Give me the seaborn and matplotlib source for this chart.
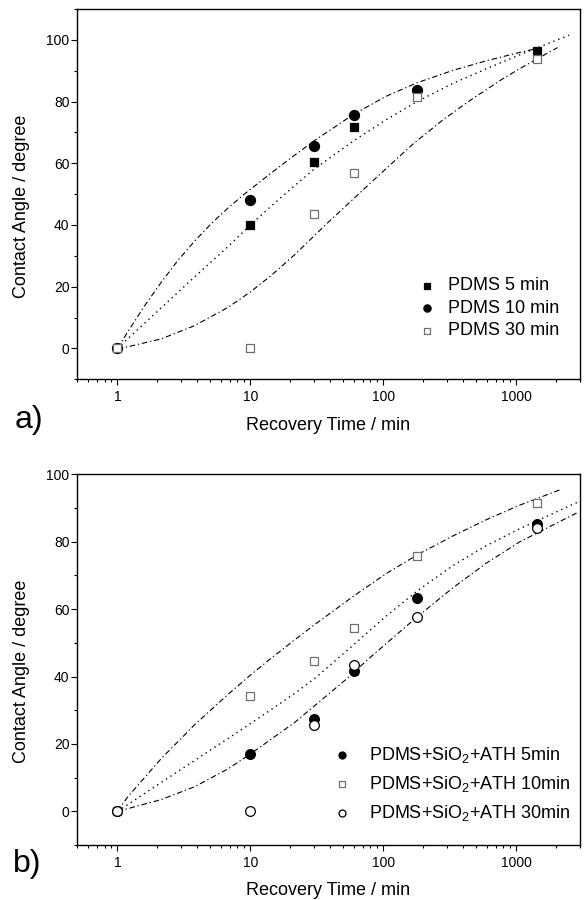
import numpy as np
import matplotlib
matplotlib.use("Agg")
import matplotlib.pyplot as plt
import matplotlib.ticker as mticker
import seaborn as sns

# recovery times (min)
times = [1, 10, 30, 60, 180, 1440]

# a) plain PDMS, contact angle (degree)
pdms_5 = [0, 40.0, 60.3, 71.6, np.nan, 96.5]
pdms_10 = [0, 48.0, 65.6, 75.6, 83.8, np.nan]
pdms_30 = [0, 0, 43.6, 56.8, 81.6, 93.8]
labels_a = ["PDMS 5 min", "PDMS 10 min", "PDMS 30 min"]

# b) PDMS+SiO2+ATH
comp_5 = [0, 16.9, 27.5, 41.5, 63.3, 85.4]
comp_10 = [0, 34.2, 44.5, 54.4, 75.9, 91.4]
comp_30 = [0, 0, 25.5, 43.5, 57.8, 84.2]
labels_b = [r"PDMS+SiO$_2$+ATH 5min", r"PDMS+SiO$_2$+ATH 10min", r"PDMS+SiO$_2$+ATH 30min"]

# fit curves
fit_a_up_x = [1, 1.2, 1.6, 2.14, 2.86, 3.81, 5.09, 6.79, 9.07, 13.9, 20.3, 30, 60, 105, 180, 334, 595, 1058, 1400]
fit_a_up_y = [0, 5.5, 13.8, 21.5, 28.6, 34.8, 40.5, 45.5, 50.1, 56.4, 61.8, 67.2, 75.9, 81.7, 86.1, 90.1, 93.2, 95.9, 97.1]
fit_a_mid_x = [1, 1.2, 2.14, 3.81, 6.79, 10, 13.9, 20.3, 30, 60, 105, 180, 334, 595, 1058, 2500]
fit_a_mid_y = [0, 3.2, 13.2, 23.2, 33.0, 40.0, 45.6, 51.8, 58.0, 67.3, 74.1, 80.0, 85.9, 90.6, 95.1, 101.5]
fit_a_low_x = [1, 1.2, 2.14, 3.81, 6.79, 10, 14.4, 21.6, 37.3, 83.4, 167, 280, 444, 794, 1058, 2050]
fit_a_low_y = [0, 0.55, 3.1, 7.4, 13.3, 18.3, 23.7, 30.4, 40.3, 54.3, 66.2, 74.0, 80.2, 87.4, 90.6, 97.5]

fit_b_up_x = [1, 1.2, 2.14, 3.81, 6.79, 10, 13.9, 21.6, 30, 60, 105, 180, 334, 595, 1058, 2140]
fit_b_up_y = [0, 4.4, 15.7, 25.7, 34.7, 40.4, 45.0, 50.9, 55.2, 63.9, 70.5, 76.1, 81.7, 86.5, 90.8, 95.4]
fit_b_mid_x = [1, 1.2, 2.14, 3.81, 6.79, 10, 21.6, 31.3, 59, 105, 180, 334, 595, 1058, 2930]
fit_b_mid_y = [0, 2.05, 8.6, 15.1, 21.6, 26.0, 35.0, 39.8, 49.2, 57.9, 65.4, 72.9, 78.8, 83.8, 91.8]
fit_b_low_x = [1, 1.2, 2.14, 3.81, 6.79, 10, 21.6, 52.7, 78.9, 180, 334, 595, 1058, 2850]
fit_b_low_y = [0, 0.8, 3.5, 7.3, 12.6, 17.0, 26.4, 39.2, 45.5, 57.7, 66.3, 73.6, 79.9, 88.5]

sns.set_style("ticks")
plt.rcParams["font.family"] = ["Liberation Sans", "DejaVu Sans"]
plt.rcParams["mathtext.fontset"] = "custom"
plt.rcParams["mathtext.rm"] = "Liberation Sans"
plt.rcParams["mathtext.it"] = "Liberation Sans:italic"
for key in ["text.color", "axes.labelcolor", "xtick.color", "ytick.color", "axes.edgecolor"]:
    plt.rcParams[key] = "black"

dashdot = (0, (5, 2.5, 1.2, 2.5))
dotted = (0, (1.0, 2.8))
grey = "#707070"


def curve(ax, x, y, ls, lw=0.8):
    sns.lineplot(x=x, y=y, ax=ax, color="k", linewidth=lw, linestyle=ls,
                 estimator=None, sort=False, zorder=2)


def points(ax, y, marker, face, edge, size, label):
    sns.scatterplot(x=times, y=y, ax=ax, marker=marker, s=size, color=face,
                    edgecolor=edge, linewidth=0.9, label=label, zorder=3)


def style_axes(ax, ymax):
    ax.set_xscale("log")
    ax.set_xlim(0.5, 3000)
    ax.set_ylim(-10, ymax)
    ax.xaxis.set_major_locator(mticker.FixedLocator([1, 10, 100, 1000]))
    ax.xaxis.set_major_formatter(mticker.FormatStrFormatter("%g"))
    ax.xaxis.set_minor_locator(mticker.LogLocator(base=10, subs=np.arange(2, 10)))
    ax.xaxis.set_minor_formatter(mticker.NullFormatter())
    ax.yaxis.set_major_locator(mticker.MultipleLocator(20))
    ax.yaxis.set_minor_locator(mticker.MultipleLocator(10))
    ax.tick_params(which="both", direction="out", top=False, right=False,
                   width=0.8, labelsize=10, colors="k")
    ax.tick_params(which="major", length=4.3)
    ax.tick_params(which="minor", length=2.4)
    ax.tick_params(axis="x", pad=3.5)
    ax.tick_params(axis="y", pad=1.5)
    for sp in ax.spines.values():
        sp.set_visible(True)
        sp.set_linewidth(1.0)
        sp.set_color("k")
    ax.set_xlabel("Recovery Time / min", fontsize=13)
    ax.set_ylabel("Contact Angle / degree", fontsize=13)
    ax.xaxis.set_label_coords(0.5, -0.124)
    ax.xaxis.label.set_verticalalignment("center")
    ax.yaxis.set_label_coords(-0.112, 0.468)
    ax.yaxis.label.set_verticalalignment("center")


fig = plt.figure(figsize=(5.84, 9), dpi=100)
ax_a = fig.add_axes([0.1327, 0.5786, 0.8596, 0.4114])
ax_b = fig.add_axes([0.1327, 0.0611, 0.8596, 0.4119])

# panel a
style_axes(ax_a, 110)
curve(ax_a, fit_a_up_x, fit_a_up_y, dashdot)
curve(ax_a, fit_a_mid_x, fit_a_mid_y, dotted, lw=1.0)
curve(ax_a, fit_a_low_x, fit_a_low_y, dashdot)
points(ax_a, pdms_5, "s", "k", "k", 40, labels_a[0])
points(ax_a, pdms_10, "o", "k", "k", 52, labels_a[1])
points(ax_a, pdms_30, "s", "white", grey, 36, labels_a[2])
ax_a.legend(loc="upper left", bbox_to_anchor=(0.679, 0.275), frameon=False,
            fontsize=13, handlelength=1.0, handletextpad=0.65, labelspacing=0.3,
            borderpad=0, borderaxespad=0, markerscale=0.72)

# panel b
style_axes(ax_b, 100)
curve(ax_b, fit_b_up_x, fit_b_up_y, dashdot)
curve(ax_b, fit_b_mid_x, fit_b_mid_y, dotted, lw=1.0)
curve(ax_b, fit_b_low_x, fit_b_low_y, dashdot)
points(ax_b, comp_5, "o", "k", "k", 49, labels_b[0])
points(ax_b, comp_10, "s", "white", grey, 36, labels_b[1])
points(ax_b, comp_30, "o", "white", "k", 49, labels_b[2])
ax_b.legend(loc="upper left", bbox_to_anchor=(0.509, 0.27), frameon=False,
            fontsize=13, handlelength=1.0, handletextpad=0.97, labelspacing=0.5,
            borderpad=0, borderaxespad=0, markerscale=0.72)

fig.text(0.05, 1 - 420 / 900, "a)", fontsize=23, ha="center", va="center")
fig.text(0.047, 1 - 864 / 900, "b)", fontsize=23, ha="center", va="center")

fig.savefig("out.png", dpi=100)
